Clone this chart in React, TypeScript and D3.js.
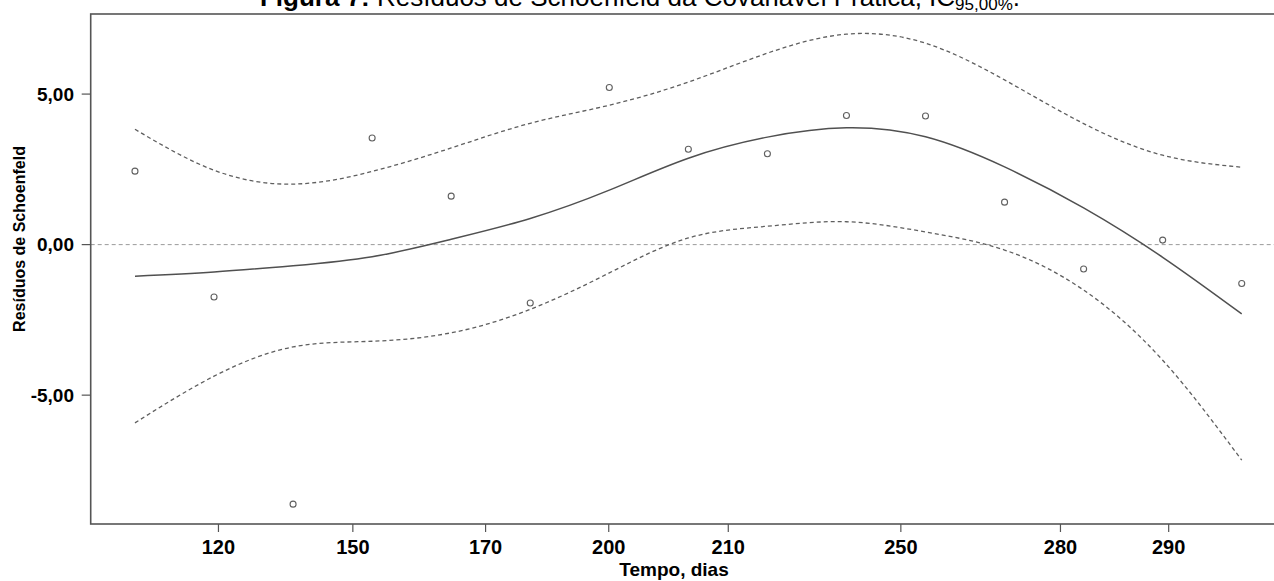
import React from "react";
import * as d3 from "d3";

// Event order (rank) positions of the residuals
const ranks = [1, 2, 3, 4, 5, 6, 7, 8, 9, 10, 11, 12, 13, 14, 15];
// Schoenfeld residuals
const residuals = [2.44, -1.74, -8.62, 3.54, 1.61, -1.94, 5.22, 3.17, 3.02, 4.29, 4.27, 1.41, -0.81, 0.15, -1.29];
// Smoothed fit and 95% band
const fitValues = [-1.05, -0.91, -0.70, -0.40, 0.18, 0.87, 1.81, 2.87, 3.57, 3.88, 3.58, 2.58, 1.22, -0.42, -2.30];
const upperValues = [3.83, 2.47, 2.01, 2.43, 3.21, 4.03, 4.63, 5.40, 6.36, 6.99, 6.69, 5.47, 4.02, 2.97, 2.57];
const lowerValues = [-5.92, -4.37, -3.40, -3.21, -2.93, -2.15, -0.94, 0.22, 0.61, 0.76, 0.42, -0.18, -1.51, -3.84, -7.16];
// X axis ticks (position on the transformed time axis, label in days)
const xTickPositions = [2.056, 3.756, 5.435, 6.993, 8.505, 10.688, 12.707, 14.076];
const xTickLabels = ["120", "150", "170", "200", "210", "250", "280", "290"];
// Y axis ticks
const yTicks = [5, 0, -5];
const yTickLabels = ["5,00", "0,00", "-5,00"];

const W = 1274;
const H = 581;
const FONT = "'Liberation Sans', Arial, Helvetica, sans-serif";

export default function App() {
  const left = 90.7;
  const right = 1286;
  const top = 14;
  const bottom = 524;

  const x = d3.scaleLinear().domain([0.44, 15.56]).range([left, right]);
  const y = d3.scaleLinear().domain([-9.28, 7.66]).range([bottom, top]);

  const line = (vals: number[]) =>
    d3
      .line<number>()
      .x((_, i) => x(ranks[i]))
      .y((d) => y(d))
      .curve(d3.curveNatural)(vals) || "";

  return (
    <svg
      width={W}
      height={H}
      style={{ position: "fixed", left: 0, top: 0, display: "block", background: "#fff" }}
      fontFamily={FONT}
    >
      {/* Title (cut at top) */}
      <text x={640} y={6} textAnchor="middle" fontSize={26} fill="#000">
        <tspan fontWeight="bold">Figura 7:</tspan>
        <tspan> Resíduos de Schoenfeld da Covariável Prática, IC</tspan>
        <tspan fontSize={17} dy={4}>95,00%</tspan>
        <tspan dy={-4}>.</tspan>
      </text>

      {/* zero reference line */}
      <line x1={left} x2={right} y1={y(0)} y2={y(0)} stroke="#9a9a9a" strokeWidth={1} strokeDasharray="4,3" />

      {/* band */}
      <path d={line(upperValues)} fill="none" stroke="#5f5f5f" strokeWidth={1.3} strokeDasharray="4,3" />
      <path d={line(lowerValues)} fill="none" stroke="#5f5f5f" strokeWidth={1.3} strokeDasharray="4,3" />
      {/* fit */}
      <path d={line(fitValues)} fill="none" stroke="#505050" strokeWidth={1.5} />

      {/* points */}
      {residuals.map((r, i) => (
        <circle key={i} cx={x(ranks[i])} cy={y(r)} r={3} fill="none" stroke="#606060" strokeWidth={1.1} />
      ))}

      {/* frame */}
      <rect x={left} y={top} width={right - left} height={bottom - top} fill="none" stroke="#555" strokeWidth={1.6} />

      {/* y axis */}
      {yTicks.map((t, i) => (
        <g key={t}>
          <line x1={left - 9} x2={left} y1={y(t)} y2={y(t)} stroke="#555" strokeWidth={1.2} />
          <text x={74} y={y(t)} dy="0.36em" textAnchor="end" fontSize={19} fontWeight="bold" fill="#000">
            {yTickLabels[i]}
          </text>
        </g>
      ))}
      <text
        transform={`translate(25,239) rotate(-90)`}
        textAnchor="middle"
        fontSize={16}
        fontWeight="bold"
        fill="#000"
      >
        Resíduos de Schoenfeld
      </text>

      {/* x axis */}
      {xTickPositions.map((p, i) => (
        <g key={i}>
          <line x1={x(p)} x2={x(p)} y1={bottom} y2={bottom + 8} stroke="#555" strokeWidth={1.2} />
          <text x={x(p)} y={554} textAnchor="middle" fontSize={20} fontWeight="bold" fill="#000">
            {xTickLabels[i]}
          </text>
        </g>
      ))}
      <text x={674} y={576} textAnchor="middle" fontSize={19} fontWeight="bold" fill="#000">
        Tempo, dias
      </text>
    </svg>
  );
}
